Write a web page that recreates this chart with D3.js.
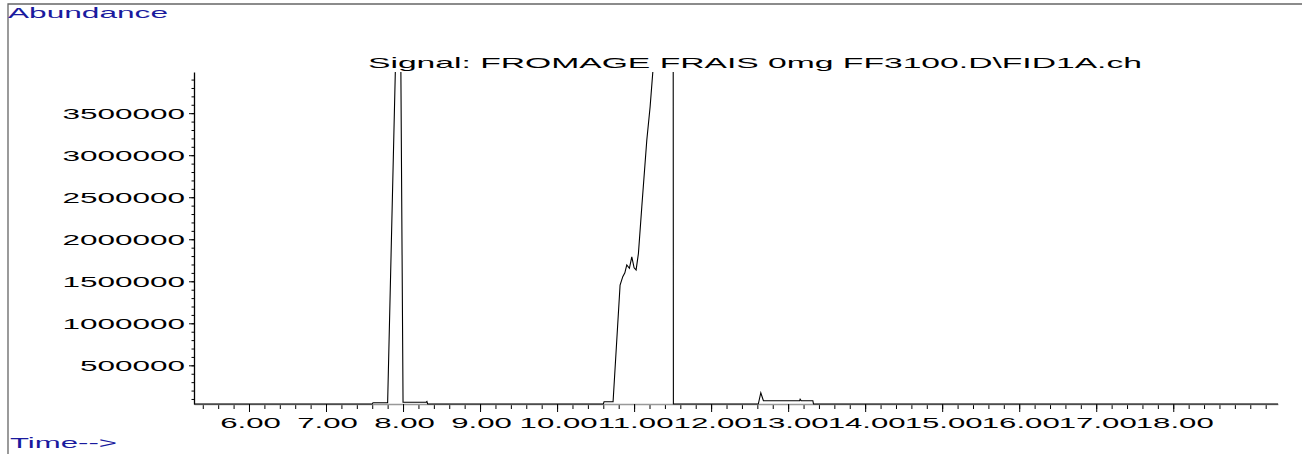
<!DOCTYPE html>
<html>
<head>
<meta charset="utf-8">
<script src="https://cdn.jsdelivr.net/npm/d3@7"></script>
<style>
  body { margin: 0; background: #fff; }
  svg { display: block; font-family: "Liberation Sans", Arial, Helvetica, sans-serif; }
</style>
</head>
<body>
<div id="chart"></div>
<script>
// Chromatogram trace (time in min, abundance)
const times = [5.29, 7.60, 7.61, 7.80, 7.90, 7.935, 7.972, 8.00, 8.30, 8.31, 8.32,
  10.60, 10.61, 10.727, 10.818, 10.853, 10.88, 10.905, 10.939, 10.970, 11.00, 11.026,
  11.056, 11.10, 11.165, 11.208, 11.243, 11.40, 11.505, 11.51,
  12.61, 12.614, 12.645, 12.679, 13.15, 13.156, 13.17, 13.321, 13.329, 19.36];
const abundance = [40000, 40000, 55000, 55000, 4000000, 9000000, 4000000, 60000, 62000, 70000, 40000,
  40000, 67000, 67000, 1455000, 1555000, 1600000, 1695000, 1655000, 1790000, 1660000, 1635000,
  1830000, 2387000, 3181000, 3577000, 3990000, 6000000, 9000000, 40000,
  40000, 45000, 174000, 79000, 79000, 96000, 79000, 79000, 40000, 40000];

const xMajor = [6, 7, 8, 9, 10, 11, 12, 13, 14, 15, 16, 17, 18];
const xMinor = d3.range(27, 97).map(i => i / 5); // 5.4 .. 19.2
const yMajor = [500000, 1000000, 1500000, 2000000, 2500000, 3000000, 3500000];
const yMinor = d3.range(1, 40).map(i => i * 100000);

const titleText = "Signal: FROMAGE FRAIS 0mg FF3100.D\\FID1A.ch";

const W = 1302, H = 454;
const plot = { left: 194, right: 1278, top: 72, bottom: 404 };

const svg = d3.select("#chart").append("svg")
  .attr("width", W).attr("height", H);

svg.append("rect").attr("width", W).attr("height", H).attr("fill", "#fff");

// outer frame
svg.append("path")
  .attr("d", `M8,${H} V4 H${W}`)
  .attr("fill", "none").attr("stroke", "#666").attr("stroke-width", 1.3);

const x = d3.scaleLinear().domain([5.286, 19.36]).range([plot.left, plot.right]);
const y = d3.scaleLinear().domain([40000, 3990000]).range([plot.bottom, plot.top]);

// x axis: gray baseline, black ticks
const xMinorG = svg.append("g")
  .attr("transform", `translate(0,${plot.bottom})`)
  .call(d3.axisBottom(x).tickValues(xMinor).tickSize(5).tickFormat(""));
xMinorG.select(".domain").remove();
xMinorG.selectAll("line").attr("stroke", "#000");

const xG = svg.append("g")
  .attr("transform", `translate(0,${plot.bottom})`)
  .call(d3.axisBottom(x).tickValues(xMajor).tickSize(8).tickSizeOuter(0)
    .tickFormat(d3.format(".2f")));
xG.select(".domain").attr("stroke", "#999").attr("stroke-width", 1.5);
xG.selectAll(".tick line").attr("stroke", "#000");
xG.selectAll(".tick text")
  .attr("y", 0).attr("dy", 0)
  .attr("transform", "translate(1,23.5) scale(2.08,1)")
  .attr("fill", "#000")
  .style("font-size", "15px");

// y axis
const yMinorG = svg.append("g")
  .attr("transform", `translate(${plot.left},0)`)
  .call(d3.axisLeft(y).tickValues(yMinor).tickSize(2.5).tickFormat(""));
yMinorG.select(".domain").remove();
yMinorG.selectAll("line").attr("stroke", "#000");

const yG = svg.append("g")
  .attr("transform", `translate(${plot.left},0)`)
  .call(d3.axisLeft(y).tickValues(yMajor).tickSize(5).tickSizeOuter(0)
    .tickFormat(d3.format("d")));
yG.select(".domain").attr("stroke", "#000").attr("stroke-width", 1.3);
yG.selectAll(".tick line").attr("stroke", "#000");
yG.selectAll(".tick text")
  .attr("x", 0).attr("dy", "0.36em")
  .attr("transform", "translate(-9,0) scale(2.1,1)")
  .attr("fill", "#000")
  .style("font-size", "15px");

// trace, clipped to the plot area
svg.append("clipPath").attr("id", "clip")
  .append("rect")
  .attr("x", plot.left).attr("y", plot.top)
  .attr("width", plot.right - plot.left).attr("height", plot.bottom - plot.top + 2);

const line = d3.line()
  .x((d, i) => x(times[i]))
  .y(d => y(d));

svg.append("path")
  .datum(abundance)
  .attr("clip-path", "url(#clip)")
  .attr("d", line)
  .attr("fill", "none")
  .attr("stroke", "#000")
  .attr("stroke-width", 1.1);

// texts
svg.append("text")
  .attr("x", 8).attr("y", 18)
  .attr("textLength", 160).attr("lengthAdjust", "spacingAndGlyphs")
  .attr("fill", "#1a1a9e")
  .style("font-size", "15px")
  .text("Abundance");

svg.append("text")
  .attr("x", 10).attr("y", 448)
  .attr("textLength", 107).attr("lengthAdjust", "spacingAndGlyphs")
  .attr("fill", "#1a1a9e")
  .style("font-size", "15px")
  .text("Time-->");

svg.append("text")
  .attr("x", 368).attr("y", 68)
  .attr("textLength", 774).attr("lengthAdjust", "spacingAndGlyphs")
  .attr("fill", "#000")
  .style("font-size", "15px")
  .text(titleText);
</script>
</body>
</html>
